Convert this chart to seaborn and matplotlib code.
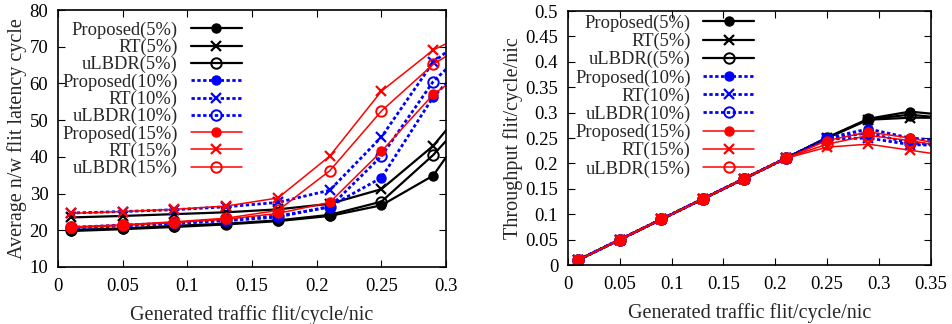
import numpy as np
import pandas as pd
import matplotlib
matplotlib.use("Agg")
import matplotlib.pyplot as plt
import seaborn as sns
from matplotlib.ticker import FuncFormatter

# ---- data ----
x_lat = [0.01, 0.05, 0.09, 0.13, 0.17, 0.21, 0.25, 0.29, 0.33]
lat_prop5 = [19.8, 20.3, 20.9, 21.6, 22.5, 23.9, 26.8, 34.9, 55.0]
lat_rt5 = [23.5, 23.9, 24.4, 24.9, 25.7, 27.2, 31.2, 43.0, 60.0]
lat_ulbdr5 = [20.1, 20.5, 21.2, 21.8, 22.7, 24.2, 27.8, 40.5, 56.0]
lat_prop10 = [20.6, 21.2, 21.8, 22.6, 23.6, 26.5, 34.3, 56.3, 71.0]
lat_rt10 = [24.7, 25.1, 25.6, 26.4, 27.6, 30.9, 45.4, 65.8, 76.6]
lat_ulbdr10 = [20.8, 21.4, 22.0, 22.8, 23.9, 26.3, 40.2, 60.5, 74.0]
lat_prop15 = [20.7, 21.3, 22.1, 23.0, 24.6, 27.6, 41.5, 57.0, 67.0]
lat_rt15 = [24.6, 25.1, 25.7, 26.6, 28.8, 40.2, 57.9, 69.1, 76.0]
lat_ulbdr15 = [20.9, 21.5, 22.3, 23.3, 25.4, 36.2, 52.5, 65.2, 74.0]

x_thr = [0.01, 0.05, 0.09, 0.13, 0.17, 0.21, 0.25, 0.29, 0.33, 0.37]
thr_prop5 = [0.01, 0.05, 0.09, 0.13, 0.17, 0.21, 0.251, 0.288, 0.302, 0.294]
thr_rt5 = [0.01, 0.05, 0.09, 0.13, 0.17, 0.21, 0.250, 0.286, 0.290, 0.290]
thr_ulbdr5 = [0.01, 0.05, 0.09, 0.13, 0.17, 0.21, 0.250, 0.287, 0.296, 0.288]
thr_prop10 = [0.01, 0.05, 0.09, 0.13, 0.17, 0.21, 0.250, 0.268, 0.250, 0.244]
thr_rt10 = [0.01, 0.05, 0.09, 0.13, 0.17, 0.21, 0.248, 0.250, 0.237, 0.235]
thr_ulbdr10 = [0.01, 0.05, 0.09, 0.13, 0.17, 0.21, 0.249, 0.260, 0.240, 0.236]
thr_prop15 = [0.01, 0.05, 0.09, 0.13, 0.17, 0.21, 0.245, 0.262, 0.250, 0.234]
thr_rt15 = [0.01, 0.05, 0.09, 0.13, 0.17, 0.21, 0.232, 0.238, 0.226, 0.214]
thr_ulbdr15 = [0.01, 0.05, 0.09, 0.13, 0.17, 0.21, 0.238, 0.255, 0.245, 0.231]

lat_labels = ["Proposed(5%)", "RT(5%)", "uLBDR(5%)",
              "Proposed(10%)", "RT(10%)", "uLBDR(10%)",
              "Proposed(15%)", "RT(15%)", "uLBDR(15%)"]
thr_labels = ["Proposed(5%)", "RT(5%)", "uLBDR((5%)",
              "Proposed(10%)", "RT(10%)", "uLBDR(10%)",
              "Proposed(15%)", "RT(15%)", "uLBDR(15%)"]

lat_series = [lat_prop5, lat_rt5, lat_ulbdr5, lat_prop10, lat_rt10,
              lat_ulbdr10, lat_prop15, lat_rt15, lat_ulbdr15]
thr_series = [thr_prop5, thr_rt5, thr_ulbdr5, thr_prop10, thr_rt10,
              thr_ulbdr10, thr_prop15, thr_rt15, thr_ulbdr15]

# ---- styles ----
groups = [
    dict(color="black", ls="-", lw=1.6),
    dict(color="#0000ff", ls=(0, (1.2, 0.9)), lw=2.0),
    dict(color="#ff0000", ls="-", lw=1.1),
]
markers = [
    dict(marker="o", ms=6.5, mfc=None, mew=1.0),
    dict(marker="x", ms=7.5, mfc=None, mew=1.6),
    dict(marker="o", ms=7.5, mfc="none", mew=1.4),
]

sns.set_style("ticks")
plt.rcParams["font.family"] = ["Liberation Serif", "DejaVu Serif"]

fig = plt.figure(figsize=(9.52, 3.24), dpi=100)
ax1 = fig.add_axes([0.061, 0.176, 0.4076, 0.793])
ax2 = fig.add_axes([0.5966, 0.182, 0.381, 0.784])

fs_lab = 14.5
fs_tick = 13.5
fs_leg = 13.3


def draw(ax, xs, series, labels):
    for i, (ys, lab) in enumerate(zip(series, labels)):
        g = groups[i // 3]
        m = markers[i % 3]
        kw = dict(color=g["color"], linestyle=g["ls"], linewidth=g["lw"],
                  marker=m["marker"], markersize=m["ms"],
                  markeredgewidth=m["mew"], markeredgecolor=g["color"])
        if m["mfc"] == "none":
            kw["markerfacecolor"] = "none"
        else:
            kw["markerfacecolor"] = g["color"]
        df = pd.DataFrame({"x": xs, "y": ys})
        sns.lineplot(data=df, x="x", y="y", ax=ax, label=lab, sort=False,
                     legend=False, **kw)


draw(ax1, x_lat, lat_series, lat_labels)
draw(ax2, x_thr, thr_series, thr_labels)

fmt = FuncFormatter(lambda v, p: "%g" % round(v, 4))

ax1.set_xlim(0, 0.3)
ax1.set_ylim(10, 80)
ax1.set_xticks(np.arange(0, 0.301, 0.05))
ax1.set_yticks(np.arange(10, 81, 10))
ax1.set_xlabel("Generated traffic flit/cycle/nic", fontsize=fs_lab, labelpad=7)
ax1.set_ylabel("Average n/w flit latency cycle", fontsize=fs_lab, labelpad=2)

ax2.set_xlim(0, 0.35)
ax2.set_ylim(0, 0.5)
ax2.set_xticks(np.arange(0, 0.351, 0.05))
ax2.set_yticks(np.arange(0, 0.501, 0.05))
ax2.set_xlabel("Generated traffic flit/cycle/nic", fontsize=fs_lab, labelpad=7)
ax2.set_ylabel("Throughput flit/cycle/nic", fontsize=fs_lab, labelpad=2)

for ax in (ax1, ax2):
    ax.xaxis.set_major_formatter(fmt)
    ax.yaxis.set_major_formatter(fmt)
    ax.tick_params(direction="in", top=True, right=True, length=5,
                   width=0.8, labelsize=fs_tick, colors="black")
    ax.tick_params(axis="x", pad=8)
    ax.tick_params(axis="y", pad=7)
    for s in ax.spines.values():
        s.set_visible(True)
        s.set_linewidth(1.2)
        s.set_color("black")
    ax.grid(False)

leg1 = ax1.legend(loc="upper right", bbox_to_anchor=(0.487, 0.977), frameon=False,
                  markerfirst=False, fontsize=fs_leg, handlelength=2.75,
                  labelspacing=0.0, borderaxespad=0.0, handletextpad=0.7,
                  borderpad=0.3)
leg2 = ax2.legend(loc="upper right", bbox_to_anchor=(0.529, 1.008), frameon=False,
                  markerfirst=False, fontsize=fs_leg, handlelength=2.75,
                  labelspacing=0.05, borderaxespad=0.0, handletextpad=0.7,
                  borderpad=0.3)

fig.savefig("out.png", dpi=100)
